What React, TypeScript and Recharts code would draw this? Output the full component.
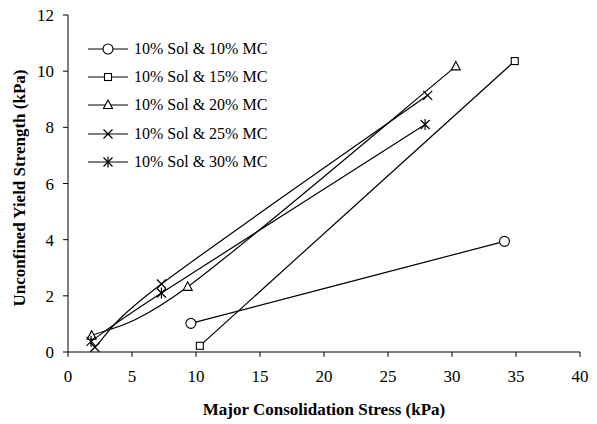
import { Line, LineChart, XAxis, YAxis } from "recharts";

// 10% soluble solids, five moisture contents: major consolidation stress (kPa) vs unconfined yield strength (kPa)
const mc10 = [
  { x: 9.6, y: 1.02 },
  { x: 34.1, y: 3.94 },
];
const mc15 = [
  { x: 10.3, y: 0.22 },
  { x: 34.9, y: 10.36 },
];
const mc20 = [
  { x: 1.85, y: 0.58 },
  { x: 9.35, y: 2.32 },
  { x: 30.3, y: 10.17 },
];
const mc25 = [
  { x: 2.1, y: 0.17 },
  { x: 7.3, y: 2.42 },
  { x: 28.1, y: 9.14 },
];
const mc30 = [
  { x: 1.8, y: 0.38 },
  { x: 7.3, y: 2.1 },
  { x: 27.9, y: 8.1 },
];

const xTicks = [0, 5, 10, 15, 20, 25, 30, 35, 40];
const yTicks = [0, 2, 4, 6, 8, 10, 12];

const FONT = "'Liberation Serif', 'Times New Roman', serif";

// spreadsheet-style smoothed line (Catmull-Rom bezier through the scaled points)
function smoothCurve(context: any) {
  let pts: [number, number][] = [];
  return {
    areaStart() {},
    areaEnd() {},
    lineStart() {
      pts = [];
    },
    lineEnd() {
      const n = pts.length;
      if (!n) return;
      context.moveTo(pts[0][0], pts[0][1]);
      for (let i = 0; i < n - 1; i++) {
        const a = pts[Math.max(i - 1, 0)];
        const b = pts[i];
        const c = pts[i + 1];
        const d = pts[Math.min(i + 2, n - 1)];
        context.bezierCurveTo(
          b[0] + (c[0] - a[0]) / 6,
          b[1] + (c[1] - a[1]) / 6,
          c[0] - (d[0] - b[0]) / 6,
          c[1] - (d[1] - b[1]) / 6,
          c[0],
          c[1]
        );
      }
    },
    point(x: number, y: number) {
      pts.push([+x, +y]);
    },
  };
}

type MarkerKind = "circle" | "square" | "triangle" | "cross" | "star";

function Marker({ kind, cx, cy }: { kind: MarkerKind; cx: number; cy: number }) {
  const s = { stroke: "#000", strokeWidth: 1.1, fill: "#fff" };
  if (kind === "circle") return <circle cx={cx} cy={cy} r={5} {...s} />;
  if (kind === "square") return <rect x={cx - 3.5} y={cy - 3.5} width={7} height={7} {...s} />;
  if (kind === "triangle")
    return <polygon points={`${cx},${cy - 5} ${cx + 4.5},${cy + 3.5} ${cx - 4.5},${cy + 3.5}`} {...s} />;
  const d = 4.5;
  return (
    <g stroke="#000" strokeWidth={1.2}>
      <line x1={cx - d} y1={cy - d} x2={cx + d} y2={cy + d} />
      <line x1={cx - d} y1={cy + d} x2={cx + d} y2={cy - d} />
      {kind === "star" && <line x1={cx} y1={cy - d - 1} x2={cx} y2={cy + d + 1} />}
    </g>
  );
}

const series: { name: string; data: { x: number; y: number }[]; kind: MarkerKind }[] = [
  { name: "10% Sol & 10% MC", data: mc10, kind: "circle" },
  { name: "10% Sol & 15% MC", data: mc15, kind: "square" },
  { name: "10% Sol & 20% MC", data: mc20, kind: "triangle" },
  { name: "10% Sol & 25% MC", data: mc25, kind: "cross" },
  { name: "10% Sol & 30% MC", data: mc30, kind: "star" },
];

// legend drawn as an overlay so the plot keeps its full height
function LegendBox() {
  return (
    <div
      style={{
        position: "absolute",
        left: 87,
        top: 35,
        fontFamily: FONT,
        fontSize: 16,
        color: "#000",
      }}
    >
      {series.map((s) => (
        <div key={s.name} style={{ display: "flex", alignItems: "center", height: 28.2 }}>
          <svg width={42} height={14} style={{ marginRight: 5 }}>
            <line x1={1} y1={7} x2={41} y2={7} stroke="#000" strokeWidth={1.2} />
            <Marker kind={s.kind} cx={21} cy={7} />
          </svg>
          <span style={{ whiteSpace: "nowrap" }}>{s.name}</span>
        </div>
      ))}
    </div>
  );
}

export default function App() {
  return (
    <div style={{ position: "absolute", left: 0, top: 0, width: 597, height: 424, background: "#fff" }}>
      <LineChart width={597} height={424} margin={{ top: 15, right: 17, bottom: 0, left: 28 }}>
        <XAxis
          dataKey="x"
          type="number"
          domain={[0, 40]}
          ticks={xTicks}
          interval={0}
          height={72}
          tickSize={5}
          tickMargin={13}
          stroke="#000"
          tick={{ fill: "#000", fontSize: 17, fontFamily: FONT }}
          label={{
            value: "Major Consolidation Stress (kPa)",
            position: "insideBottom",
            offset: 9,
            style: { fontFamily: FONT, fontSize: 17, fontWeight: "bold", fill: "#000" },
          }}
        />
        <YAxis
          type="number"
          domain={[0, 12]}
          ticks={yTicks}
          interval={0}
          width={40}
          tickSize={5}
          tickMargin={9}
          stroke="#000"
          tick={{ fill: "#000", fontSize: 17, fontFamily: FONT }}
          label={{
            content: () => (
              <text
                x={19}
                y={188}
                transform="rotate(-90 19 188)"
                textAnchor="middle"
                dominantBaseline="central"
                style={{ fontFamily: FONT, fontSize: 17, fontWeight: "bold", fill: "#000" }}
              >
                Unconfined Yield Strength (kPa)
              </text>
            ),
          }}
        />
        {series.map((s) => (
          <Line
            key={s.name}
            name={s.name}
            data={s.data}
            dataKey="y"
            type={smoothCurve as any}
            stroke="#000"
            strokeWidth={1.2}
            isAnimationActive={false}
            dot={(p: any) => <Marker key={`${s.name}-${p.index}`} kind={s.kind} cx={p.cx} cy={p.cy} />}
            activeDot={false}
          />
        ))}
      </LineChart>
      <LegendBox />
    </div>
  );
}
